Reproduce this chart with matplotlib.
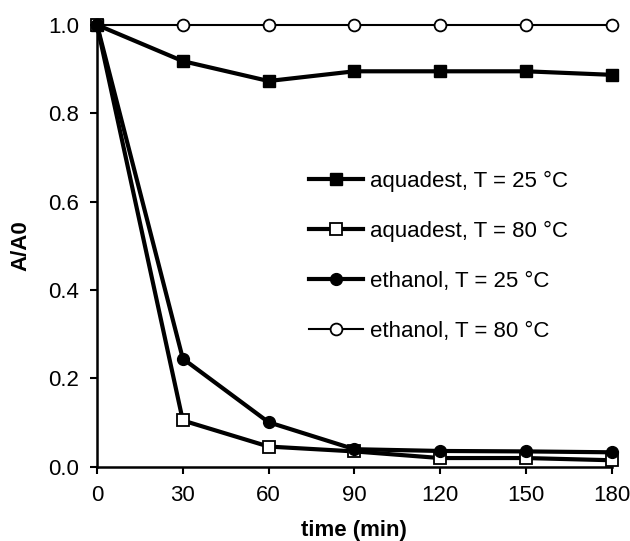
import matplotlib
matplotlib.use('Agg')
import matplotlib.pyplot as plt

plt.rcParams['font.family'] = ['Liberation Sans', 'DejaVu Sans']

time = [0, 30, 60, 90, 120, 150, 180]
aqua_25 = [1.0, 0.918, 0.873, 0.895, 0.895, 0.895, 0.887]
aqua_80 = [1.0, 0.105, 0.046, 0.035, 0.02, 0.02, 0.015]
eth_25 = [1.0, 0.245, 0.101, 0.040, 0.036, 0.035, 0.033]
eth_80 = [1.0, 1.0, 1.0, 1.0, 1.0, 1.0, 1.0]

fs = 16

fig = plt.figure(figsize=(6.3, 5.41), dpi=100)
ax = fig.add_axes([0.154, 0.137, 0.817, 0.817])

# 绘制四条曲线
ax.plot(time, aqua_25, '-s', color='black', lw=3.0, ms=8.5, mfc='black',
        mec='black', label='aquadest, T = 25 °C', clip_on=False, zorder=3)
ax.plot(time, aqua_80, '-s', color='black', lw=3.0, ms=8.5, mfc='white',
        mec='black', mew=1.3, label='aquadest, T = 80 °C', clip_on=False, zorder=3)
ax.plot(time, eth_25, '-o', color='black', lw=3.0, ms=8.5, mfc='black',
        mec='black', label='ethanol, T = 25 °C', clip_on=False, zorder=4)
ax.plot(time, eth_80, '-o', color='black', lw=1.5, ms=8.5, mfc='white',
        mec='black', mew=1.3, label='ethanol, T = 80 °C', clip_on=False, zorder=3)

ax.set_xlim(0, 180)
ax.set_ylim(0, 1.0)
ax.set_xticks(time)
ax.set_yticks([0, 0.2, 0.4, 0.6, 0.8, 1.0])
ax.set_yticklabels(['0.0', '0.2', '0.4', '0.6', '0.8', '1.0'])
ax.tick_params(direction='out', length=5, width=1.5, labelsize=fs, pad=8)

ax.spines['top'].set_visible(False)
ax.spines['right'].set_visible(False)
ax.spines['left'].set_linewidth(1.8)
ax.spines['bottom'].set_linewidth(1.8)

ax.set_xlabel('time (min)', fontsize=fs, fontweight='bold', labelpad=10)
ax.set_ylabel('A/A0', fontsize=fs, fontweight='bold', labelpad=12)

ax.legend(loc='upper left', bbox_to_anchor=(0.395, 0.69), frameon=False,
          fontsize=fs, handlelength=2.4, labelspacing=1.3,
          handletextpad=0.35, borderaxespad=0)

fig.savefig('out.png', dpi=100)
